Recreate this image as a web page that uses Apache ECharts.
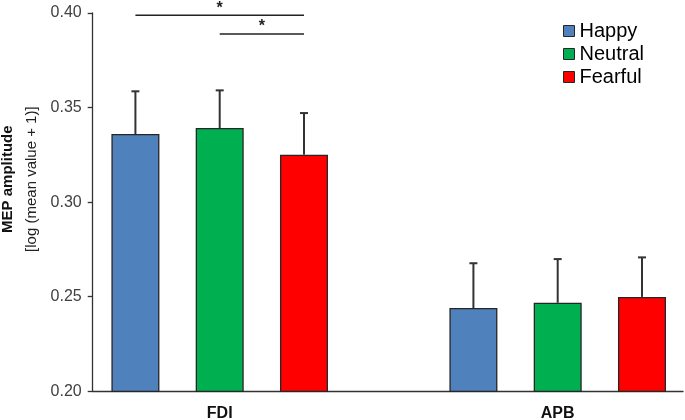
<!DOCTYPE html>
<html>
<head>
<meta charset="utf-8">
<script src="https://cdn.jsdelivr.net/npm/echarts@6/dist/echarts.min.js"></script>
<style>html,body{margin:0;padding:0;background:#fff}#c{width:685px;height:420px}</style>
</head>
<body>
<div id="c"></div>
<script>
var categories = ['FDI', 'APB'];
var seriesNames = ['Happy', 'Neutral', 'Fearful'];
var happyMean = [0.336, 0.244];
var happyErrTop = [0.3586, 0.2677];
var neutralMean = [0.3392, 0.2468];
var neutralErrTop = [0.3591, 0.2699];
var fearfulMean = [0.3251, 0.2499];
var fearfulErrTop = [0.3471, 0.2708];
var yTicks = [0.20, 0.25, 0.30, 0.35, 0.40];
// significance brackets: [category index, from bar, to bar, level]
var sigBrackets = [[0, 0, 2, 0.3988], [0, 1, 2, 0.3889]];
var sigLabels = ['*', '*'];

var colors = ['#4F81BD', '#00B050', '#FF0000'];
var BW = 48 / 338;       // bar width fraction of band
var GAP = 0.756;         // barGap fraction of bar width

var means = [happyMean, neutralMean, fearfulMean];
var errs = [happyErrTop, neutralErrTop, fearfulErrTop];

var series = [];
means.forEach(function (m, k) {
  series.push({
    name: seriesNames[k], type: 'bar', xAxisIndex: 0, yAxisIndex: 0,
    data: m, barWidth: (BW * 100) + '%', barGap: (GAP * 100) + '%',
    itemStyle: { color: colors[k], borderColor: '#262626', borderWidth: 1.3 },
    emphasis: { disabled: true }, z: 2
  });
});
means.forEach(function (m, k) {
  series.push({
    type: 'custom', xAxisIndex: 0, yAxisIndex: 0, z: 3, silent: true,
    data: m.map(function (v, i) { return [i, v, errs[k][i]]; }),
    renderItem: function (params, api) {
      var bandW = api.size([1, 0])[0];
      var off = (k - 1) * bandW * BW * (1 + GAP);
      var b = api.coord([api.value(0), api.value(1)]);
      var t = api.coord([api.value(0), api.value(2)]);
      var x = b[0] + off;
      var st = { stroke: '#333', lineWidth: 2 };
      return { type: 'group', children: [
        { type: 'line', shape: { x1: x, y1: b[1], x2: x, y2: t[1] }, style: st },
        { type: 'line', shape: { x1: x - 4, y1: t[1], x2: x + 4, y2: t[1] }, style: st }
      ]};
    }
  });
});
series.push({
  type: 'custom', xAxisIndex: 0, yAxisIndex: 0, z: 3, silent: true, clip: false,
  data: sigBrackets,
  renderItem: function (params, api) {
    var bandW = api.size([1, 0])[0];
    var step = bandW * BW * (1 + GAP);
    var c = api.coord([api.value(0), api.value(3)]);
    var x1 = c[0] + (api.value(1) - 1) * step;
    var x2 = c[0] + (api.value(2) - 1) * step;
    return { type: 'group', children: [
      { type: 'line', shape: { x1: x1, y1: c[1], x2: x2, y2: c[1] }, style: { stroke: '#222', lineWidth: 1.3 } },
      { type: 'text', x: (x1 + x2) / 2, y: c[1] + 1, style: { text: sigLabels[params.dataIndex], fill: '#222', font: 'bold 16px "Liberation Sans", Arial, sans-serif', align: 'center', verticalAlign: 'bottom' } }
    ]};
  }
});

var chart = echarts.init(document.getElementById('c'), null, { renderer: 'canvas' });
chart.setOption({
  animation: false,
  textStyle: { fontFamily: '"Liberation Sans", Arial, sans-serif' },
  legend: {
    data: seriesNames, orient: 'vertical', left: 563, top: 21, padding: 0,
    itemWidth: 11, itemHeight: 11, itemGap: 3, icon: 'rect',
    textStyle: { fontSize: 20, color: '#000' },
    itemStyle: { borderColor: '#262626', borderWidth: 1 }
  },
  grid: [
    { left: 50.7, width: 676, top: 13, bottom: 28.7, outerBoundsMode: 'none', containLabel: false },
    { left: 92.7, right: 2, top: 13, bottom: 28.7, outerBoundsMode: 'none', containLabel: false }
  ],
  xAxis: [
    { type: 'category', gridIndex: 0, data: categories,
      axisLine: { show: false }, axisTick: { show: false },
      axisLabel: { fontSize: 16, fontWeight: 'bold', color: '#111', margin: 14 } },
    { type: 'category', gridIndex: 1, data: categories,
      axisLine: { show: true, lineStyle: { color: '#333', width: 1.3 } },
      axisTick: { show: false }, axisLabel: { show: false } }
  ],
  yAxis: [
    { type: 'value', gridIndex: 0, min: yTicks[0], max: yTicks[yTicks.length - 1], interval: 0.05, show: false },
    { type: 'value', gridIndex: 1, min: yTicks[0], max: yTicks[yTicks.length - 1], interval: 0.05,
      axisLine: { show: true, lineStyle: { color: '#333', width: 1.3 } },
      axisTick: { show: true, inside: false, length: 5, lineStyle: { color: '#333', width: 1.3 } },
      splitLine: { show: false },
      axisLabel: { fontSize: 16, color: '#404040', margin: 11, formatter: function (v) { return v.toFixed(2); } },
      name: '{b|MEP amplitude}\n{n|[log (mean value + 1)]}',
      nameLocation: 'middle', nameGap: 46, nameRotate: 90,
      nameTextStyle: { padding: [0, 0, 0, 46], rich: {
        b: { fontSize: 15, fontWeight: 'bold', color: '#111', lineHeight: 24, align: 'center' },
        n: { fontSize: 15, color: '#222', lineHeight: 24, align: 'center' }
      } }
    }
  ],
  series: series
});
</script>
</body>
</html>
